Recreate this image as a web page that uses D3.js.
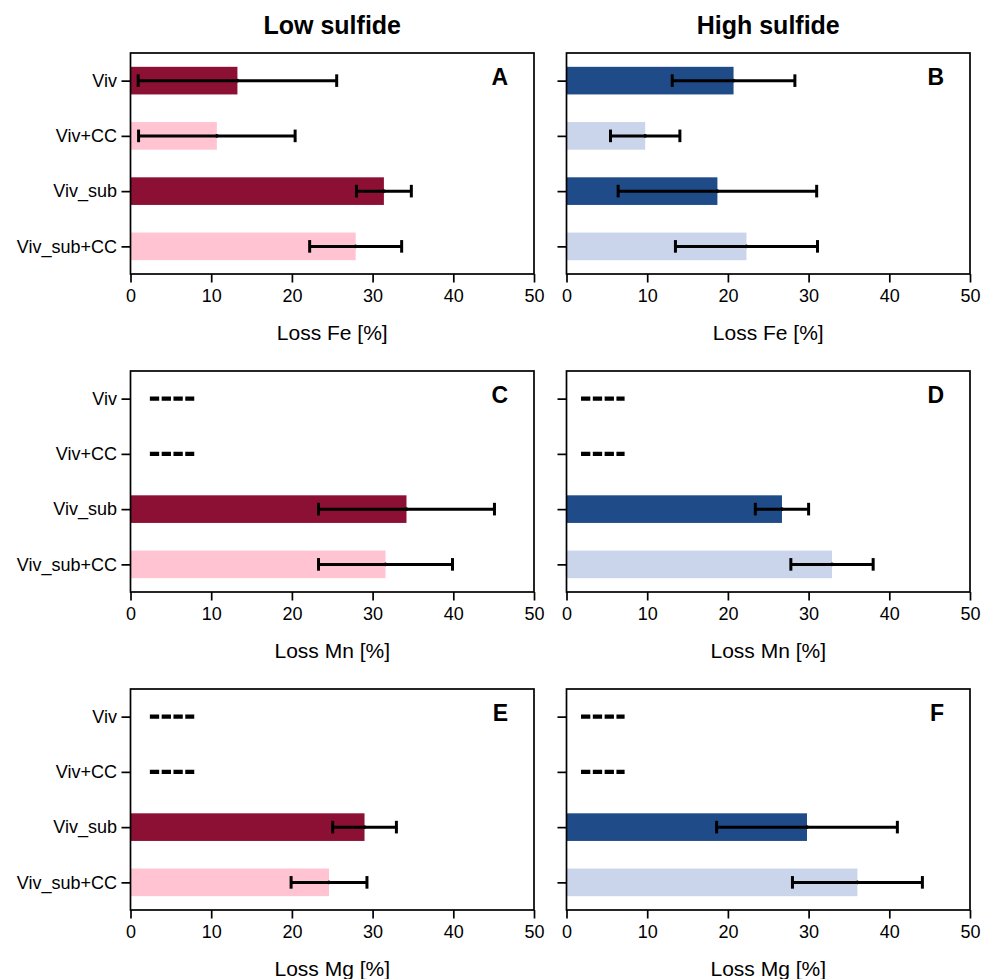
<!DOCTYPE html>
<html>
<head>
<meta charset="utf-8">
<script src="https://cdn.jsdelivr.net/npm/d3@7"></script>
<style>
  body { margin: 0; background: #fff; }
  svg { display: block; font-family: "Liberation Sans", Arial, sans-serif; }
</style>
</head>
<body>
<div id="chart"></div>
<script>
// categories / labels
var categories = ["Viv", "Viv+CC", "Viv_sub", "Viv_sub+CC"]
var columnTitles = ["Low sulfide", "High sulfide"]
var elements = ["Fe", "Mn", "Mg"]
var panelLetters = [["A", "B"], ["C", "D"], ["E", "F"]]
var xTicks = [0, 10, 20, 30, 40, 50]

// mean loss [%] and error (+/-), null = not determined
var lowFeMean  = [13.25, 10.7, 31.4, 27.9]
var lowFeErr   = [12.3, 9.7, 3.4, 5.7]
var highFeMean = [20.7, 9.75, 18.7, 22.3]
var highFeErr  = [7.6, 4.3, 12.3, 8.8]

var lowMnMean  = [null, null, 34.2, 31.6]
var lowMnErr   = [null, null, 10.9, 8.3]
var highMnMean = [null, null, 26.7, 32.9]
var highMnErr  = [null, null, 3.3, 5.1]

var lowMgMean  = [null, null, 29.0, 24.6]
var lowMgErr   = [null, null, 3.95, 4.7]
var highMgMean = [null, null, 29.8, 36.05]
var highMgErr  = [null, null, 11.2, 8.05]

// extent of the "----" marks for not determined values (x units)
var lowNdSpan  = [2.4, 7.9]
var highNdSpan = [1.8, 7.2]

var colors = [
  ["#8c0f34", "#ffc3d2", "#8c0f34", "#ffc3d2"],
  ["#1f4b89", "#cad5ec", "#1f4b89", "#cad5ec"]
]

var means = [[lowFeMean, highFeMean], [lowMnMean, highMnMean], [lowMgMean, highMgMean]]
var errs  = [[lowFeErr, highFeErr], [lowMnErr, highMnErr], [lowMgErr, highMgErr]]
var ndSpans = [lowNdSpan, highNdSpan]

var W = 981, H = 979
var colLeft = [130.5, 566.5]
var plotW = 403.5
var rowTop = [53, 371, 689]
var plotH = 221

var svg = d3.select("#chart").append("svg")
  .attr("width", W).attr("height", H)

// column titles
columnTitles.forEach(function(t, c) {
  svg.append("text")
    .attr("x", colLeft[c] + plotW / 2)
    .attr("y", 34)
    .attr("text-anchor", "middle")
    .attr("font-size", 25)
    .attr("font-weight", "bold")
    .text(t)
})

elements.forEach(function(el, r) {
  [0, 1].forEach(function(c) {
    var g = svg.append("g")
      .attr("transform", "translate(" + colLeft[c] + "," + rowTop[r] + ")")

    var x = d3.scaleLinear().domain([0, 50]).range([0, plotW])
    var y = d3.scaleLinear().domain([-0.5, categories.length - 0.5]).range([0, plotH])

    var rows = categories.map(function(cat, i) {
      return { cat: cat, i: i, mean: means[r][c][i], err: errs[r][c][i], color: colors[c][i] }
    })
    var have = rows.filter(function(d) { return d.mean !== null })
    var missing = rows.filter(function(d) { return d.mean === null })

    // bars
    g.selectAll("rect.bar")
      .data(have)
      .enter()
      .append("rect")
      .attr("class", "bar")
      .attr("x", x(0))
      .attr("y", function(d) { return y(d.i - 0.25) })
      .attr("width", function(d) { return x(d.mean) - x(0) })
      .attr("height", function(d) { return y(d.i + 0.25) - y(d.i - 0.25) })
      .attr("fill", function(d) { return d.color })

    // error bars
    var eb = g.selectAll("g.err")
      .data(have)
      .enter()
      .append("g")
      .attr("class", "err")
    eb.append("line")
      .attr("x1", function(d) { return x(d.mean - d.err) })
      .attr("x2", function(d) { return x(d.mean + d.err) })
      .attr("y1", function(d) { return y(d.i) })
      .attr("y2", function(d) { return y(d.i) })
      .attr("stroke", "#000").attr("stroke-width", 3)
    eb.selectAll("line.cap")
      .data(function(d) { return [d.mean - d.err, d.mean + d.err].map(function(v) { return { v: v, i: d.i } }) })
      .enter()
      .append("line")
      .attr("class", "cap")
      .attr("x1", function(d) { return x(d.v) })
      .attr("x2", function(d) { return x(d.v) })
      .attr("y1", function(d) { return y(d.i) - 6.3 })
      .attr("y2", function(d) { return y(d.i) + 6.3 })
      .attr("stroke", "#000").attr("stroke-width", 3)
    eb.append("circle")
      .attr("cx", function(d) { return x(d.mean) })
      .attr("cy", function(d) { return y(d.i) })
      .attr("r", 1.8)
      .attr("fill", "#000")

    // not determined marks
    g.selectAll("line.nd")
      .data(missing)
      .enter()
      .append("line")
      .attr("class", "nd")
      .attr("x1", x(ndSpans[c][0]))
      .attr("x2", x(ndSpans[c][1]))
      .attr("y1", function(d) { return y(d.i) })
      .attr("y2", function(d) { return y(d.i) })
      .attr("stroke", "#000")
      .attr("stroke-width", 4.3)
      .attr("stroke-dasharray", "9.3,2.5")

    // frame
    g.append("rect")
      .attr("x", 0).attr("y", 0)
      .attr("width", plotW).attr("height", plotH)
      .attr("fill", "none")
      .attr("stroke", "#000").attr("stroke-width", 1.7)

    // x axis
    var xAxis = g.append("g")
      .attr("transform", "translate(0," + plotH + ")")
      .call(d3.axisBottom(x).tickValues(xTicks).tickSize(8.5).tickPadding(7))
    xAxis.select(".domain").remove()
    xAxis.selectAll(".tick line").attr("stroke", "#000").attr("stroke-width", 1.7)
    xAxis.selectAll(".tick text")
      .attr("font-size", 18)
      .attr("font-family", "Liberation Sans, Arial, sans-serif")
      .attr("fill", "#000")

    // y axis
    var yAxis = g.append("g")
      .call(d3.axisLeft(y).tickValues(d3.range(categories.length)).tickSize(9)
        .tickPadding(4.5)
        .tickFormat(function(i) { return c === 0 ? categories[i] : "" }))
    yAxis.select(".domain").remove()
    yAxis.selectAll(".tick line").attr("stroke", "#000").attr("stroke-width", 1.7)
    yAxis.selectAll(".tick text")
      .attr("font-size", 18)
      .attr("font-family", "Liberation Sans, Arial, sans-serif")
      .attr("fill", "#000")

    // axis label
    g.append("text")
      .attr("x", plotW / 2)
      .attr("y", plotH + 66)
      .attr("text-anchor", "middle")
      .attr("font-size", 21)
      .text("Loss " + el + " [%]")

    // panel letter
    g.append("text")
      .attr("x", plotW - 26)
      .attr("y", 32)
      .attr("text-anchor", "end")
      .attr("font-size", 23)
      .attr("font-weight", "bold")
      .text(panelLetters[r][c])
  })
})
</script>
</body>
</html>
